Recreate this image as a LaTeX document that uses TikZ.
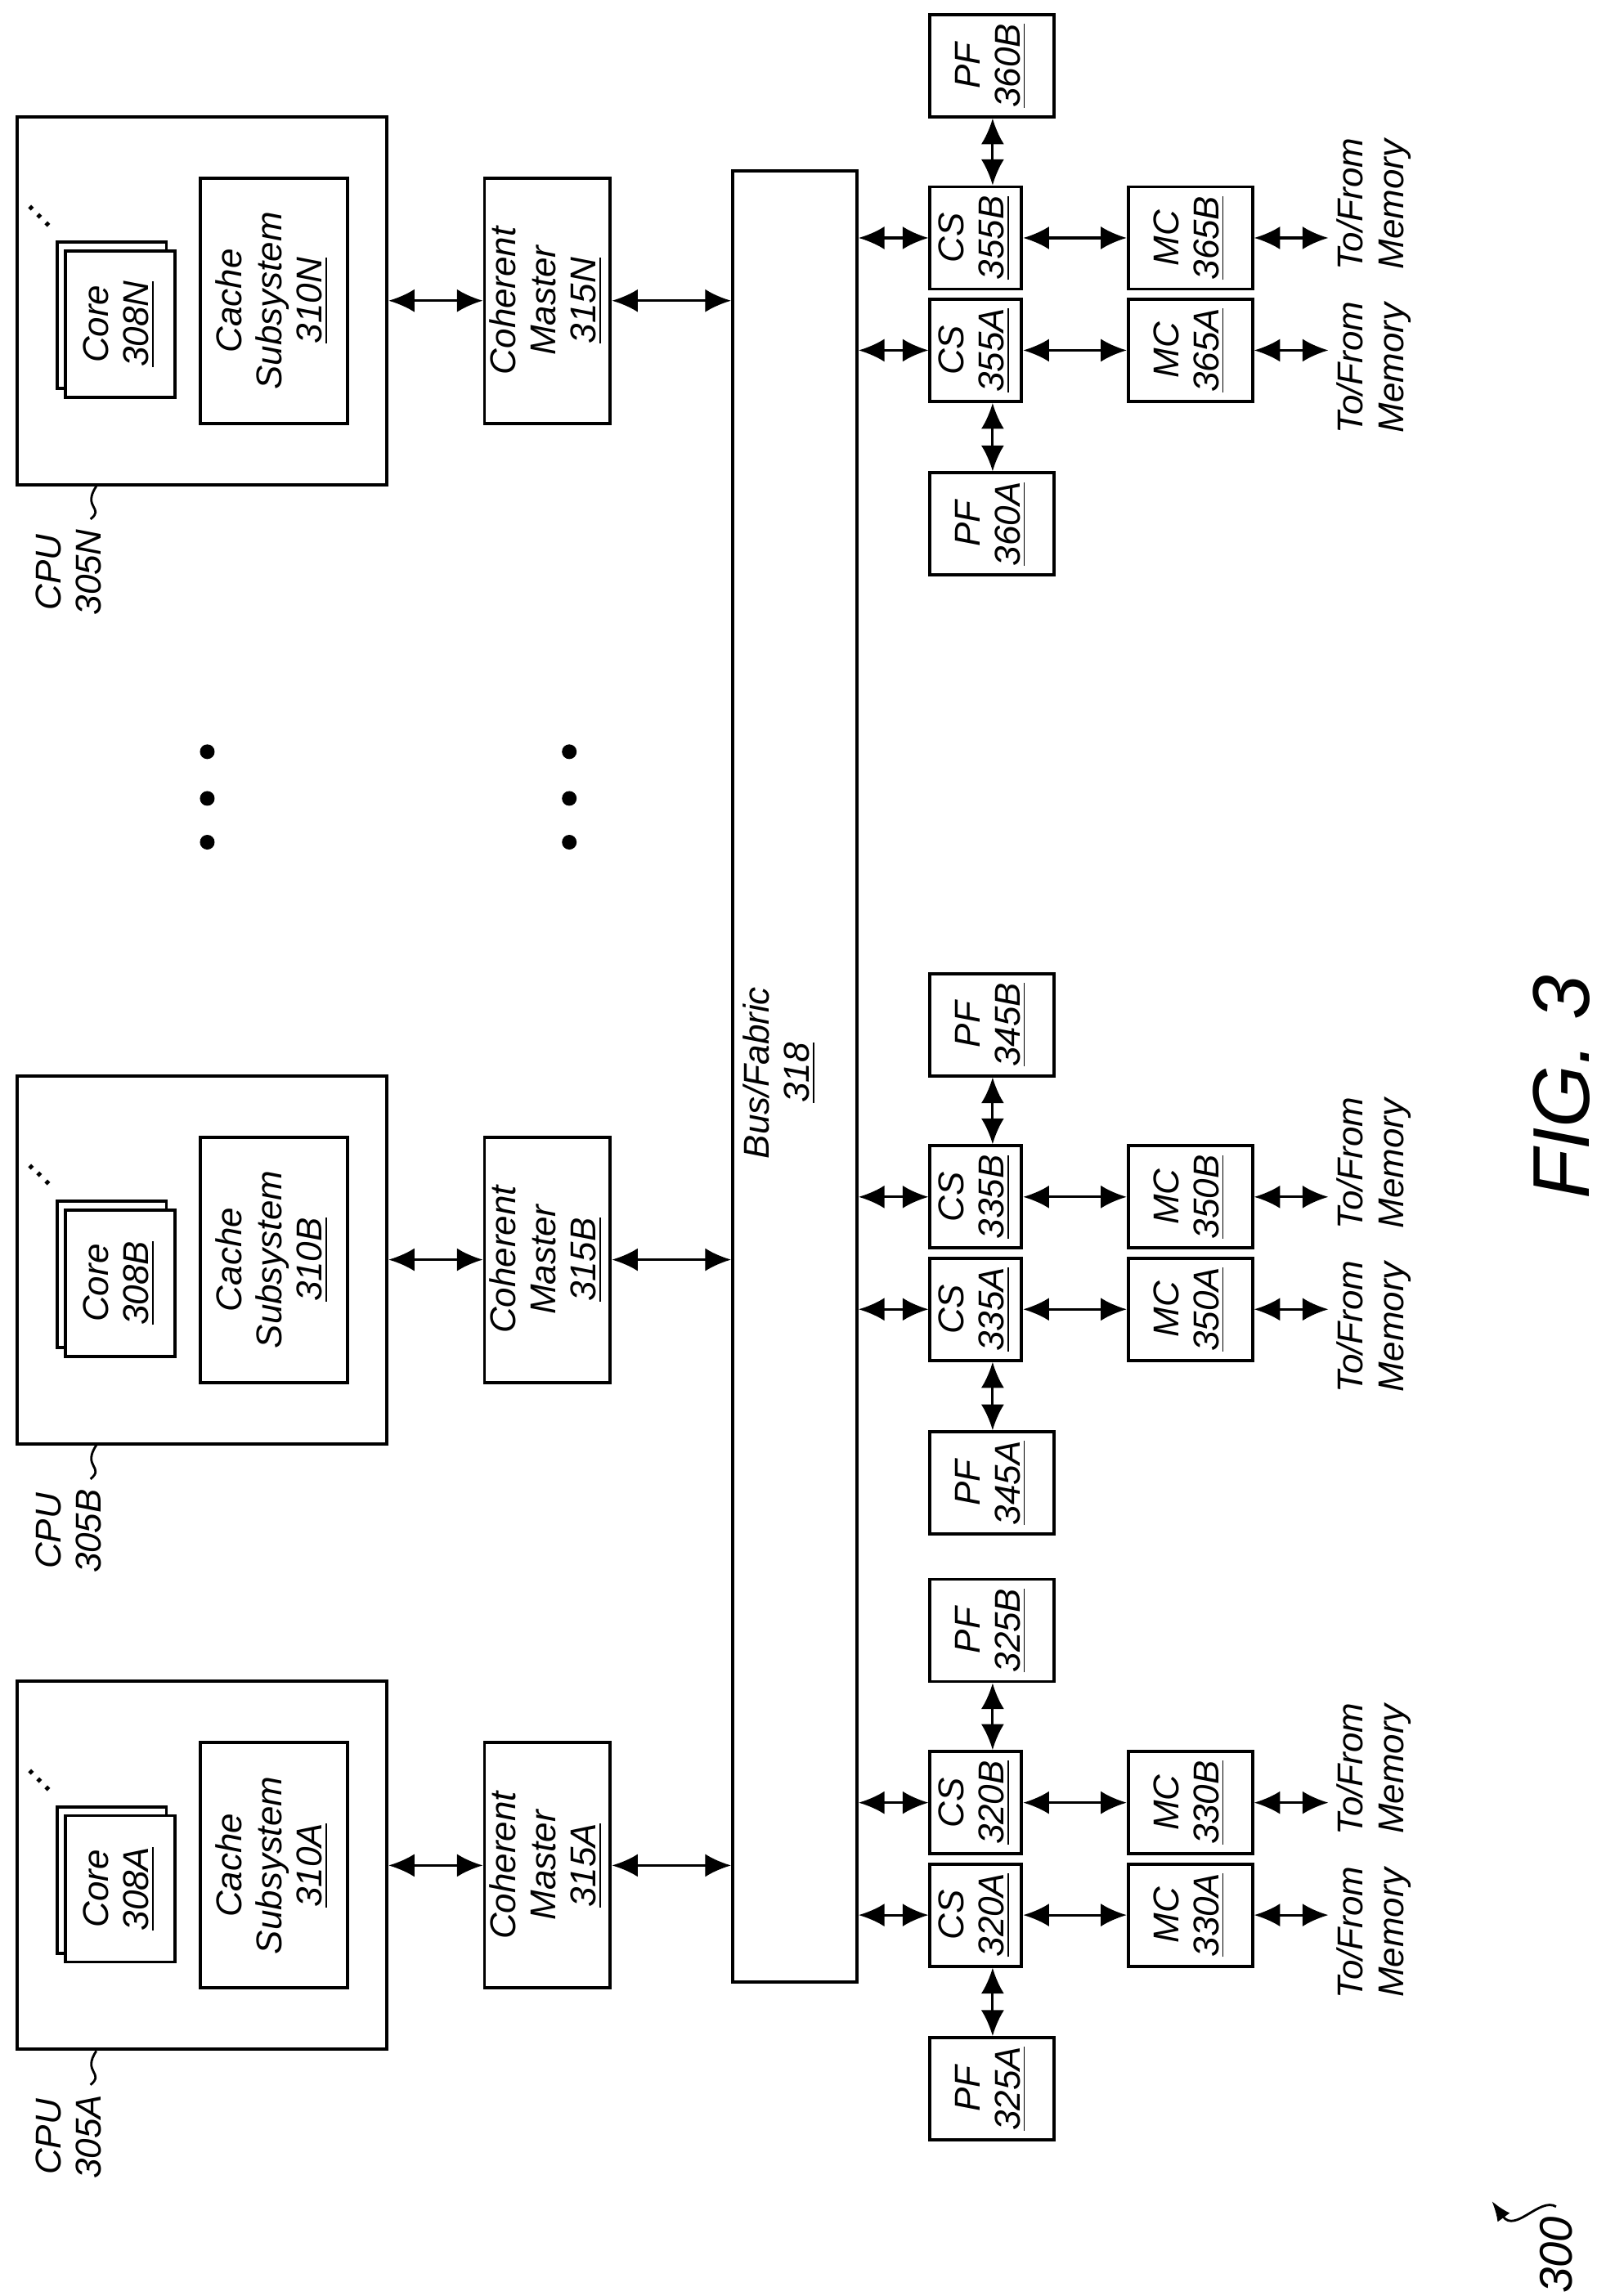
\documentclass[tikz,border=0pt]{standalone}
\usepackage{fontspec}
\setmainfont{Liberation Sans}
\usetikzlibrary{arrows.meta, positioning, calc}

\newcommand{\rt}[1]{\rotatebox{90}{\begin{tabular}{@{}c@{}}#1\end{tabular}}}

\begin{document}
\begin{tikzpicture}[x=0.01785cm, y=-0.01785cm,
    font=\fontsize{12.5}{14}\selectfont\itshape,
    blk/.style={draw, line width=1.1pt, fill=white, inner sep=0pt},
    dbl/.style={<->, line width=0.9pt, >={Latex[length=9pt, width=8pt]}}]
    \useasboundingbox (0,0) rectangle (1100,1573);
    % the bus
    \node[blk, minimum width=1.52cm, minimum height=22.15cm] (bus) at (544.5,737.5) {};
    \node at (535,735) {\rt{Bus/Fabric\\\underline{318}}};
    % one column per CPU
    \foreach \o/\s/\cs/\pf/\mc in {80/N/355/360/365, 737/B/335/345/350, 1152/A/320/325/330} {
        \node[blk, minimum width=4.52cm, minimum height=4.5cm] (cpu\s) at (138.5,\o+126) {};
        \node[blk, minimum width=1.34cm, minimum height=1.79cm] (coreb\s) at (76.5,\o+136) {};
        \node[blk, minimum width=1.34cm, minimum height=1.79cm] (core\s) at (82.5,\o+142) {\rt{Core\\\underline{308\s}}};
        \node[font=\Large, inner sep=0pt] (cdots\s) at (27,\o+68) {\rotatebox{-45}{...}};
        \node[blk, minimum width=1.8cm, minimum height=3cm] (cache\s) at (187.5,\o+126) {\rt{Cache\\Subsystem\\\underline{310\s}}};
        \node[blk, minimum width=1.54cm, minimum height=3cm] (cm\s) at (375,\o+126) {\rt{Coherent\\Master\\\underline{315\s}}};
        \node (lbl\s) at (50,\o+312) {\rt{CPU\\305\s}};
        \draw[line width=0.8pt] (cpu\s.south -| 66,0) .. controls (56,\o+268) and (72,\o+268) .. (lbl\s.north -| 62,0);
        \node[blk, minimum width=1.12cm, minimum height=1.25cm] (csb\s) at (668.5,\o+83) {\rt{CS\\\underline{\cs B}}};
        \node[blk, minimum width=1.12cm, minimum height=1.25cm] (csa\s) at (668.5,\o+160) {\rt{CS\\\underline{\cs A}}};
        \node[blk, minimum width=1.52cm, minimum height=1.25cm] (pfb\s) at (679.5,\o-35) {\rt{PF\\\underline{\pf B}}};
        \node[blk, minimum width=1.52cm, minimum height=1.25cm] (pfa\s) at (679.5,\o+279) {\rt{PF\\\underline{\pf A}}};
        \node[blk, minimum width=1.52cm, minimum height=1.25cm] (mcb\s) at (815.5,\o+83) {\rt{MC\\\underline{\mc B}}};
        \node[blk, minimum width=1.52cm, minimum height=1.25cm] (mca\s) at (815.5,\o+160) {\rt{MC\\\underline{\mc A}}};
        \node (memb\s) at (942,\o+60) {\rt{To/From\\Memory}};
        \node (mema\s) at (942,\o+172) {\rt{To/From\\Memory}};
        \draw[dbl] (cpu\s) -- (cm\s);
        \draw[dbl] (cm\s) -- (bus.west |- cm\s);
        \draw[dbl] (bus.east |- csb\s) -- (csb\s);
        \draw[dbl] (bus.east |- csa\s) -- (csa\s);
        \draw[dbl] (csb\s) -- (mcb\s);
        \draw[dbl] (csa\s) -- (mca\s);
        \draw[dbl] (mcb\s) -- (mcb\s -| 910,0);
        \draw[dbl] (mca\s) -- (mca\s -| 910,0);
        \draw[dbl] (pfb\s.south -| 680,0) -- (csb\s.north -| 680,0);
        \draw[dbl] (pfa\s.north -| 680,0) -- (csa\s.south -| 680,0);
    }
    % ellipsis between columns
    \foreach \y in {515,547,577} {
        \fill (142,\y) circle (0.09cm);
        \fill (390,\y) circle (0.09cm);
    }
    \node[font=\fontsize{28}{30}\selectfont\itshape] (fig) at (1070,745) {\rotatebox{90}{FIG. 3}};
    \node[font=\fontsize{16}{18}\selectfont\itshape] (ref) at (1066,1545) {\rotatebox{90}{300}};
    \draw[->, line width=0.8pt, >={Latex[length=7pt]}] (ref.north) .. controls (1055,1505) and (1038,1530) .. (1022,1508);
\end{tikzpicture}
\end{document}
